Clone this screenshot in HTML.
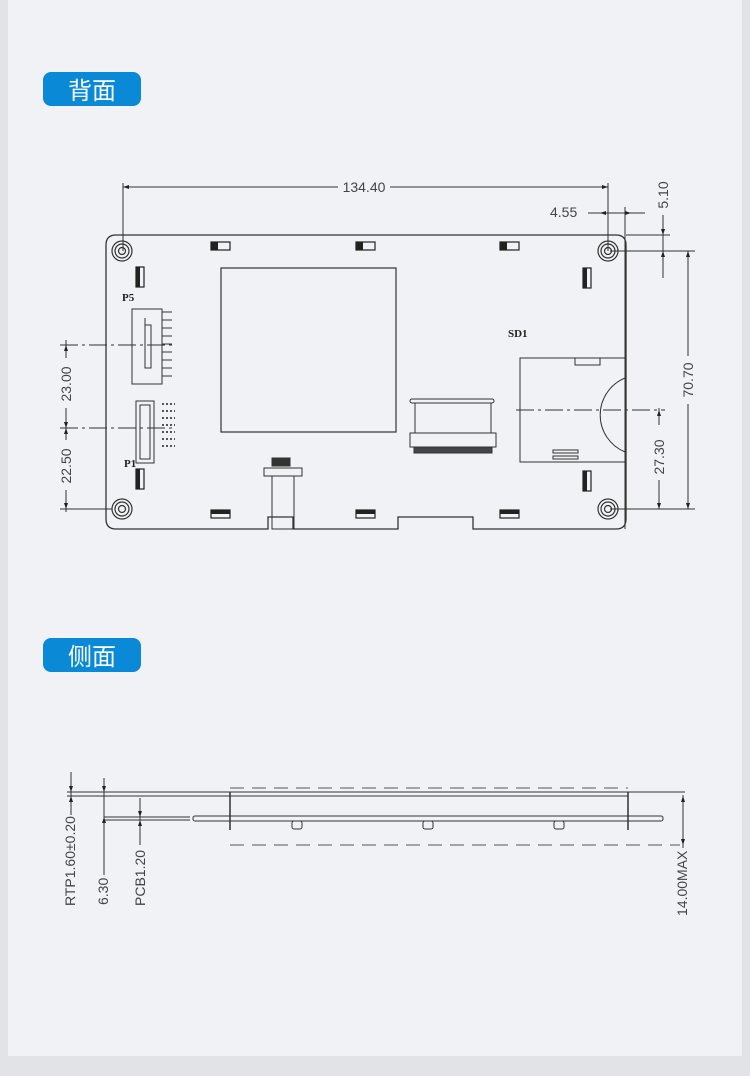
<!DOCTYPE html>
<html><head><meta charset="utf-8"><style>
body{margin:0;width:750px;height:1076px;background:#e2e3e7;overflow:hidden}
.panel{position:absolute;left:8px;top:0;width:734px;height:1056px;background:#f1f2f6}
.badge{position:absolute;left:43px;width:98px;height:34px;background:#0a8ad6;border-radius:8px;color:#fff;font:24px "Noto Sans CJK SC",sans-serif;text-align:center;line-height:34px}
svg{position:absolute;left:0;top:0}
text{font-family:"Liberation Sans",sans-serif;fill:#444;font-size:14px}
.s{font-family:"Liberation Serif",serif;font-weight:bold;font-size:11px;fill:#222}
</style></head><body>
<div class="panel"></div>
<div class="badge" style="top:72px">背面</div>
<div class="badge" style="top:638px">侧面</div>
<svg width="750" height="1076" stroke="#333" fill="none" stroke-width="1">
<!-- board -->
<path d="M116 235 H616 Q626 235 626 245 V519 Q626 529 616 529 H473 V517 H398 V529 H293 V517 H268 V529 H116 Q106 529 106 519 V245 Q106 235 116 235 Z" stroke-width="1.3"/>
<line x1="626" y1="235" x2="670" y2="235"/>
<!-- holes -->
<g stroke-width="1.2">
<circle cx="122" cy="251" r="10"/><circle cx="122" cy="251" r="7"/><circle cx="122" cy="251" r="3.5"/>
<circle cx="608" cy="251" r="10"/><circle cx="608" cy="251" r="7"/><circle cx="608" cy="251" r="3.5"/>
<circle cx="122" cy="509" r="10"/><circle cx="122" cy="509" r="7"/><circle cx="122" cy="509" r="3.5"/>
<circle cx="608" cy="509" r="10"/><circle cx="608" cy="509" r="7"/><circle cx="608" cy="509" r="3.5"/>
</g>
<!-- small parts -->
<g stroke="#222" stroke-width="1.2">
<rect x="211" y="242" width="19" height="8"/><rect x="356" y="242" width="19" height="8"/><rect x="500" y="242" width="19" height="8"/>
<rect x="211" y="510" width="19" height="8"/><rect x="356" y="510" width="19" height="8"/><rect x="500" y="510" width="19" height="8"/>
<rect x="136" y="267" width="8" height="20"/><rect x="136" y="469" width="8" height="20"/>
<rect x="583" y="268" width="8" height="20"/><rect x="583" y="471" width="8" height="20"/>
</g>
<g fill="#222" stroke="none">
<rect x="211" y="242" width="7" height="8"/><rect x="356" y="242" width="7" height="8"/><rect x="500" y="242" width="7" height="8"/>
<rect x="211" y="510" width="19" height="4"/><rect x="356" y="510" width="19" height="4"/><rect x="500" y="510" width="19" height="4"/>
<rect x="136" y="267" width="4" height="20"/><rect x="136" y="469" width="4" height="20"/>
<rect x="583" y="268" width="4" height="20"/><rect x="583" y="471" width="4" height="20"/>
</g>
<!-- chip -->
<rect x="221" y="268" width="175" height="164" stroke-width="1.2"/>
<!-- P5 -->
<rect x="132" y="309" width="30" height="75"/><line x1="145" y1="318" x2="145" y2="368"/><rect x="145" y="325" width="6" height="43"/>
<path d="M162 312 H172 M162 320 H172 M162 328 H172 M162 336 H172 M162 344 H172 M162 352 H172 M162 360 H172 M162 368 H172 M162 376 H172"/>
<!-- P1 -->
<rect x="136" y="401" width="18" height="62"/><rect x="140" y="405" width="10" height="54"/>
<g stroke="#555" stroke-width="2" stroke-dasharray="2 2"><line x1="162" y1="404" x2="175" y2="404"/><line x1="162" y1="411" x2="175" y2="411"/><line x1="162" y1="418" x2="175" y2="418"/><line x1="162" y1="425" x2="175" y2="425"/><line x1="162" y1="432" x2="175" y2="432"/><line x1="162" y1="439" x2="175" y2="439"/><line x1="162" y1="446" x2="175" y2="446"/></g>
<!-- cable connector bottom -->
<rect x="264" y="468" width="38" height="8"/><rect x="272" y="476" width="22" height="53"/><rect x="272" y="458" width="18" height="8" fill="#333"/>
<!-- FPC -->
<rect x="410" y="399" width="84" height="4" rx="2"/><rect x="415" y="403" width="76" height="30"/><rect x="410" y="433" width="86" height="14"/><rect x="414" y="447" width="78" height="6" fill="#444"/>
<!-- SD -->
<path d="M625 358 H520 V462 H625"/><path d="M625 378 A40 40 0 0 0 625 452"/><rect x="575" y="358" width="25" height="7"/><rect x="553" y="450" width="25" height="3"/><rect x="553" y="456" width="25" height="3"/>
<!-- dims top -->
<path d="M123 183 V251 M608 183 V251 M123 187 H338 M390 187 H608"/>
<path d="M625 207 V529 M588 213 H645"/>
<path d="M626 235 H670 M610 251 H695 M663 215 V278 M688 251 V356 M688 404 V509"/>
<path d="M610 509 H695 M659 408 V425 M659 480 V509"/>
<path d="M516 410 H665" stroke-dasharray="18 4 3 4"/>
<path d="M60 345 H172 M60 428 H176" stroke-dasharray="18 4 3 4"/>
<path d="M60 509 H112 M66 340 V358 M66 408 V440 M66 490 V512"/>
<g fill="#222" stroke="none">
<path d="M123 187 l6 -2 v4z M608 187 l-6 -2 v4z M600 213 l6 -2 v4z M631 213 l-6 -2 v4z"/>
<path d="M663 235 l-2 -6 h4z M663 251 l-2 6 h4z M688 251 l-2 6 h4z M688 509 l-2 -6 h4z M659 410 l-2 6 h4z M659 509 l-2 -6 h4z"/>
<path d="M66 345 l-2 6 h4z M66 428 l-2 -6 h4z M66 428 l-2 6 h4z M66 509 l-2 -6 h4z"/>
</g>
<text x="364" y="192" text-anchor="middle" stroke="none">134.40</text>
<text x="550" y="217" stroke="none">4.55</text>
<text transform="translate(668,195) rotate(-90)" text-anchor="middle" stroke="none">5.10</text>
<text transform="translate(693,380) rotate(-90)" text-anchor="middle" stroke="none">70.70</text>
<text transform="translate(664,457) rotate(-90)" text-anchor="middle" stroke="none">27.30</text>
<text transform="translate(71,384) rotate(-90)" text-anchor="middle" stroke="none">23.00</text>
<text transform="translate(71,466) rotate(-90)" text-anchor="middle" stroke="none">22.50</text>
<text class="s" x="122" y="301" stroke="none">P5</text>
<text class="s" x="124" y="467" stroke="none">P1</text>
<text class="s" x="508" y="337" stroke="none">SD1</text>
<!-- side view -->
<path d="M230 788 H628 M230 845 H680" stroke-dasharray="14 8" stroke="#555"/>
<path d="M67 792 H685 M67 796 H628 M104 817 H190 M104 820 H190"/>
<rect x="193" y="816" width="470" height="5" rx="2"/>
<path d="M230 792 V830 M628 792 V830" stroke-width="1.5"/>
<rect x="292" y="821" width="10" height="8" rx="2"/><rect x="423" y="821" width="10" height="8" rx="2"/><rect x="554" y="821" width="10" height="8" rx="2"/>
<path d="M71 772 V815 M104 778 V875 M140 798 V845 M683 795 V848"/>
<g fill="#222" stroke="none">
<path d="M71 792 l-2 -6 h4z M71 796 l-2 6 h4z M104 792 l-2 -6 h4z M104 817 l-2 6 h4z M140 817 l-2 -6 h4z M140 820 l-2 6 h4z M683 796 l-2 6 h4z M683 845 l-2 -6 h4z"/>
</g>
<text transform="translate(75,906) rotate(-90)" stroke="none" font-size="13">RTP1.60±0.20</text>
<text transform="translate(108,905) rotate(-90)" stroke="none" font-size="13">6.30</text>
<text transform="translate(145,906) rotate(-90)" stroke="none" font-size="13">PCB1.20</text>
<text transform="translate(687,916) rotate(-90)" stroke="none" font-size="12">14.00MAX</text>
</svg>
</body></html>
